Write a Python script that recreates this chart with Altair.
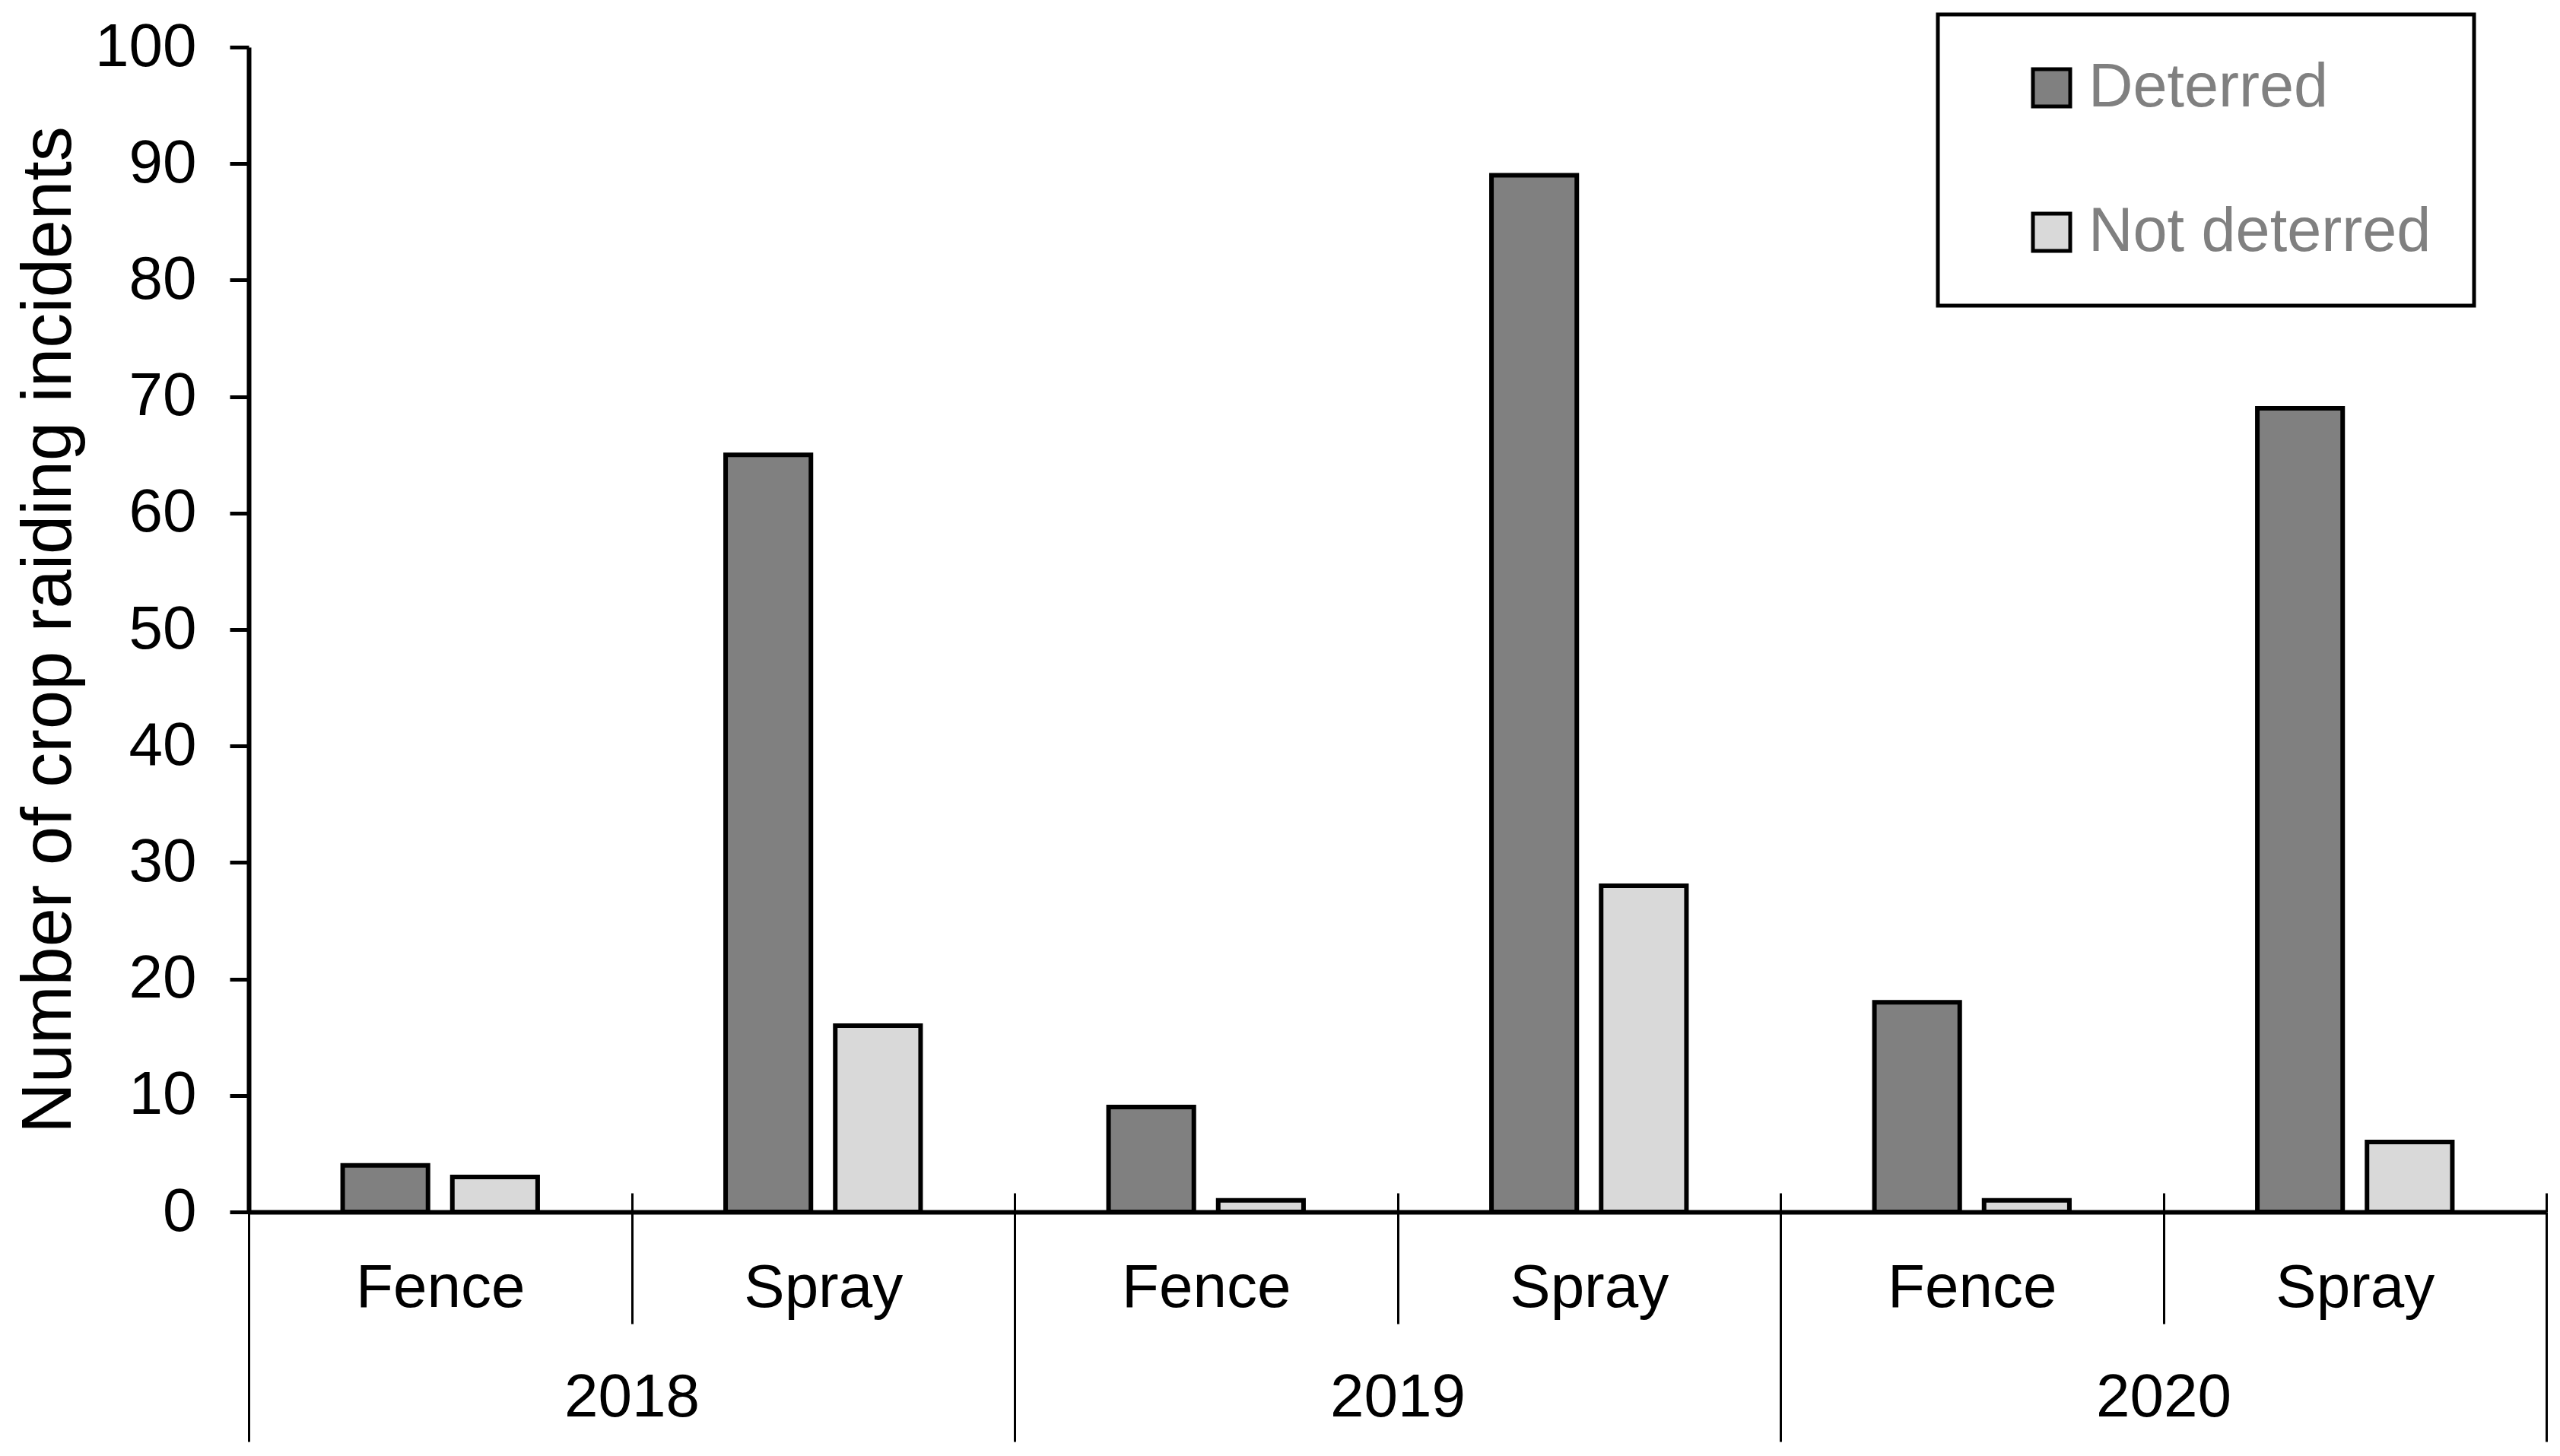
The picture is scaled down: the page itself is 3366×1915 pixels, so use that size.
import altair as alt
import pandas as pd

years = ["2018", "2019", "2020"]
treatments = ["Fence", "Spray"]
statuses = ["Deterred", "Not deterred"]
# values in order 2018 Fence, 2018 Spray, 2019 Fence, 2019 Spray, 2020 Fence, 2020 Spray
deterred = [4, 65, 9, 89, 18, 69]
not_deterred = [3, 16, 1, 28, 1, 6]

rows = []
cats = []
i = 0
for yr in years:
    for t in treatments:
        cat = yr + " " + t
        cats.append(cat)
        rows.append({"year": yr, "treatment": t, "cat": cat, "status": statuses[0], "count": deterred[i]})
        rows.append({"year": yr, "treatment": t, "cat": cat, "status": statuses[1], "count": not_deterred[i]})
        i += 1
df = pd.DataFrame(rows)

FONT = "Liberation Sans"
W = 3021
H = 1532
IS_FENCE = "isString(datum.value) && indexof(datum.value, 'Fence') >= 0"

y_enc = alt.Y(
    "count:Q",
    stack=None,
    scale=alt.Scale(domain=[0, 100], nice=False),
    axis=alt.Axis(
        values=list(range(0, 101, 10)),
        title="Number of crop raiding incidents",
        grid=False,
        domainWidth=6,
        domainColor="black",
        tickColor="black",
        tickWidth=5,
        tickSize=25,
        labelPadding=44,
        labelFont=FONT,
        labelFontSize=80,
        labelColor="black",
        titleFont=FONT,
        titleFontSize=92,
        titleFontWeight="normal",
        titleColor="black",
        titlePadding=16,
    ),
)

band0 = alt.Scale(paddingInner=0, paddingOuter=0)

bars = alt.Chart(df).mark_bar(stroke="black", strokeWidth=6).encode(
    x=alt.X(
        "cat:N",
        sort=cats,
        title=None,
        scale=band0,
        axis=alt.Axis(
            orient="bottom",
            labelAngle=0,
            labelExpr="split(datum.label, ' ')[1]",
            labelLimit=2000,
            labelOverlap=False,
            tickBand="extent",
            domainWidth=6,
            domainColor="black",
            tickColor="black",
            tickWidth=3,
            tickSize={"condition": {"test": IS_FENCE, "value": 147}, "value": 302},
            labelFont=FONT,
            labelFontSize=80,
            labelColor="black",
            labelPadding={"condition": {"test": IS_FENCE, "value": -86}, "value": -241},
        ),
    ),
    xOffset=alt.XOffset(
        "status:N",
        sort=statuses,
        scale=alt.Scale(paddingInner=0.222, paddingOuter=0.857),
    ),
    y=y_enc,
    color=alt.Color(
        "status:N",
        scale=alt.Scale(domain=statuses, range=["#808080", "#d9d9d9"]),
        legend=alt.Legend(
            title=None,
            orient="none",
            legendX=2221,
            legendY=-43,
            symbolType="square",
            symbolSize=2400,
            symbolStrokeColor="black",
            symbolStrokeWidth=5,
            labelFont=FONT,
            labelFontSize=81,
            labelColor="#808080",
            labelLimit=2000,
            labelOffset=8,
            rowPadding=108,
            padding=56,
            symbolOffset=53,
            strokeColor="black",
            fillColor="white",
        ),
    ),
)

# year labels (second band axis over the same width)
year_axis = alt.Chart(df).mark_point(opacity=0).encode(
    x=alt.X(
        "year:N",
        sort=years,
        title=None,
        scale=band0,
        axis=alt.Axis(
            orient="bottom",
            labelAngle=0,
            domain=False,
            ticks=False,
            tickSize=0,
            labelFont=FONT,
            labelFontSize=80,
            labelColor="black",
            labelPadding=205,
        ),
    ),
    y=alt.Y("count:Q", stack=None),
)

# divider stubs that cross just above the category axis
stub_axis = alt.Chart(df).mark_point(opacity=0).encode(
    x=alt.X(
        "cat:N",
        sort=cats,
        title=None,
        scale=band0,
        axis=alt.Axis(
            orient="top",
            offset=-H,
            labels=False,
            domain=False,
            tickBand="extent",
            tickColor="black",
            tickWidth=3,
            tickSize=25,
        ),
    ),
    y=alt.Y("count:Q", stack=None),
)

chart = alt.layer(bars, year_axis, stub_axis).resolve_scale(x="independent").properties(
    width=W,
    height=H,
    padding={"left": 10, "top": 8, "right": 5, "bottom": 0},
).configure_view(strokeWidth=0).configure_legend(strokeWidth=5)

chart.save("out.html", embed_options={"renderer": "svg", "actions": False})
